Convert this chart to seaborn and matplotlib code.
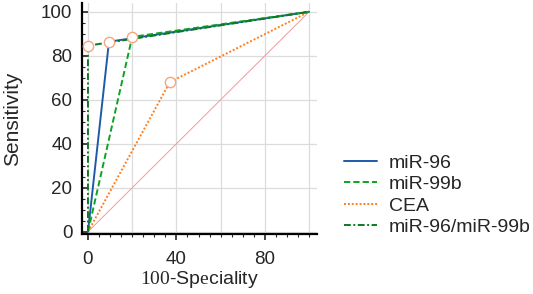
import numpy as np
import pandas as pd
import seaborn as sns
import matplotlib.pyplot as plt
from matplotlib.ticker import MultipleLocator

# ROC points (100-specificity, sensitivity)
fpr_96 = [0, 9.5, 100]
tpr_96 = [0, 86.4, 100]
fpr_99b = [0, 20, 100]
tpr_99b = [0, 88.6, 100]
fpr_cea = [0, 37, 100]
tpr_cea = [0, 68, 100]
fpr_combo = [0, 0, 100]
tpr_combo = [0, 84.6, 100]

# optimal cut-off points (open circles)
cut_x = [0, 9.5, 20, 37]
cut_y = [84.6, 86.4, 88.6, 68]

labels = ["miR-96", "miR-99b", "CEA", "miR-96/miR-99b"]
ticks = [0, 40, 80]
yticks = [0, 20, 40, 60, 80, 100]

sns.set_style("white")
plt.rcParams["font.family"] = ["Liberation Sans", "DejaVu Sans"]
plt.rcParams["mathtext.fontset"] = "custom"
plt.rcParams["mathtext.rm"] = "Liberation Serif"

fig = plt.figure(figsize=(5.33, 2.94), dpi=100)
ax = fig.add_axes([82 / 533, 1 - 234 / 294, (317 - 82) / 533, (234 - 3) / 294])

# reference diagonal
sns.lineplot(x=[0, 100], y=[0, 100], ax=ax, color="#f49a9a", linewidth=0.7,
             legend=False, zorder=2, estimator=None)

sns.lineplot(x=fpr_96, y=tpr_96, ax=ax, color="#1f5aa8", linewidth=1.4,
             label=labels[0], zorder=4, sort=False, estimator=None)
sns.lineplot(x=fpr_99b, y=tpr_99b, ax=ax, color="#0aa51e", linewidth=1.4,
             linestyle=(0, (3.2, 1.6)), label=labels[1], zorder=4, sort=False,
             estimator=None)
sns.lineplot(x=fpr_cea, y=tpr_cea, ax=ax, color="#ff7f1e", linewidth=1.4,
             linestyle=(0, (1, 1)), label=labels[2], zorder=3, sort=False,
             estimator=None)
sns.lineplot(x=fpr_combo, y=tpr_combo, ax=ax, color="#0c7a24", linewidth=1.4,
             linestyle=(0, (3.5, 1.3, 1, 1.3)), label=labels[3], zorder=5,
             sort=False, estimator=None)

sns.scatterplot(x=cut_x, y=cut_y, ax=ax, s=55, facecolor="white",
                edgecolor="#f8a57c", linewidth=1.0, zorder=6, legend=False)

ax.set_xlim(-2.7, 103.6)
ax.set_ylim(-1.0, 104.0)
ax.set_xticks(ticks)
ax.set_yticks(yticks)
ax.xaxis.set_minor_locator(MultipleLocator(5))
ax.yaxis.set_minor_locator(MultipleLocator(5))

# grid at every 20
for v in [0, 20, 40, 60, 80, 100]:
    ax.axvline(v, color="#dcdcdc", linewidth=0.9, zorder=0)
    ax.axhline(v, color="#dcdcdc", linewidth=0.9, zorder=0)

for side in ["top", "right"]:
    ax.spines[side].set_visible(False)
for side in ["left", "bottom"]:
    ax.spines[side].set_linewidth(1.6)
    ax.spines[side].set_color("black")

ax.tick_params(axis="x", which="major", direction="out", length=4, width=1.2,
               labelsize=13.5, pad=8, bottom=True)
ax.tick_params(axis="x", which="minor", direction="out", length=2.5, width=0.8,
               bottom=True)
ax.tick_params(axis="y", which="major", direction="in", length=4, width=1.2,
               labelsize=13.5, pad=7, left=True)
ax.tick_params(axis="y", which="minor", direction="in", length=2.5, width=0.8,
               left=True)

ax.set_xlabel(r"$\mathrm{100}$-Sp$\mathrm{e}$ciality", fontsize=14)
ax.set_ylabel("Sensitivity", fontsize=15)
ax.xaxis.set_label_coords(0.5, -0.15)
ax.yaxis.set_label_coords(-0.255, 0.5)

ax.legend(loc="center left", bbox_to_anchor=(344 / 533, 1 - 195 / 294),
          bbox_transform=fig.transFigure, frameon=False, fontsize=14,
          handlelength=1.7, handletextpad=0.62, labelspacing=0.2,
          borderpad=0, borderaxespad=0)

fig.savefig("out.png", dpi=100)
